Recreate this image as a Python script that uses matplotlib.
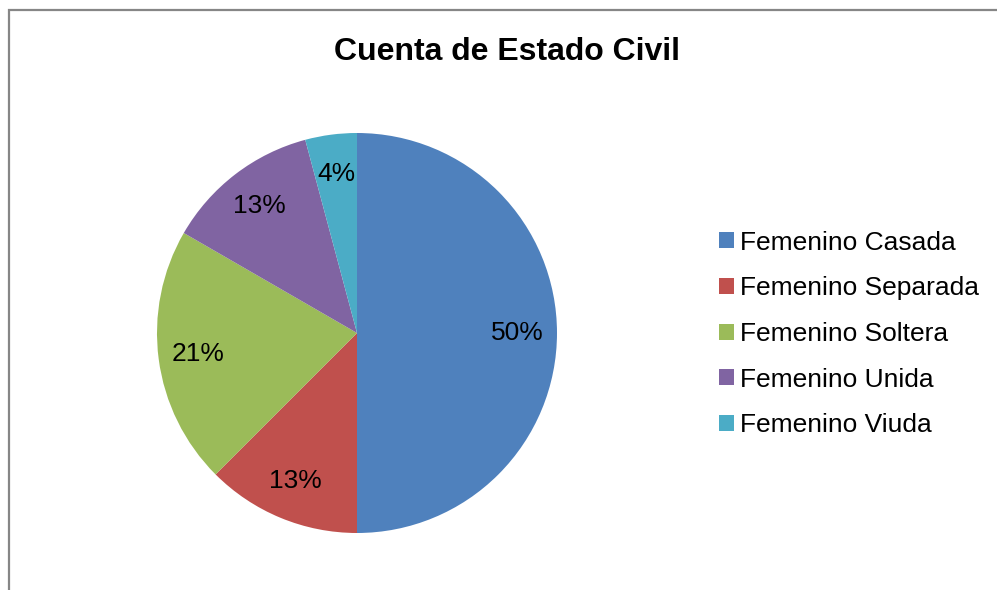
import matplotlib.pyplot as plt
from matplotlib.patches import Rectangle

plt.rcParams['font.family'] = ['Liberation Sans', 'DejaVu Sans']

# Counts per civil status (read as percentages 50/13/21/13/4)
labels = ['Femenino Casada', 'Femenino Separada', 'Femenino Soltera',
          'Femenino Unida', 'Femenino Viuda']
counts = [12, 3, 5, 3, 1]
colors = ['#4F81BD', '#C0504D', '#9BBB59', '#8064A2', '#4BACC6']

W, H = 997, 590
fig = plt.figure(figsize=(W / 100, H / 100), dpi=100)

# chart border (gray line on left and top)
fig.patches.append(Rectangle((9 / W, -0.1), 1.2, 1 - 10 / H + 0.1,
                             transform=fig.transFigure, fill=False,
                             edgecolor='#868686', linewidth=1.6))

ax = fig.add_axes([157 / W, 57 / H, 400 / W, 400 / H])
# excel rounds half up (12.5 -> 13)
wedges, texts, autotexts = ax.pie(counts, colors=colors, startangle=90,
                                  counterclock=False,
                                  autopct=lambda p: f'{int(p + 0.5)}%',
                                  pctdistance=0.8, radius=1,
                                  textprops={'fontsize': 19})
ax.set_xlim(-1, 1)
ax.set_ylim(-1, 1)
ax.set_aspect('equal')
ax.axis('off')

fig.text(507 / W, 1 - 52 / H, 'Cuenta de Estado Civil', ha='center',
         va='center', fontsize=23, fontweight='bold')

fig.legend(wedges, labels, loc='center left',
           bbox_to_anchor=(706 / W, 1 - 334 / H), frameon=False,
           fontsize=19, handlelength=0.55, handleheight=0.55,
           handletextpad=0.25, labelspacing=0.82, borderpad=0)

fig.savefig('out.png', dpi=100)
